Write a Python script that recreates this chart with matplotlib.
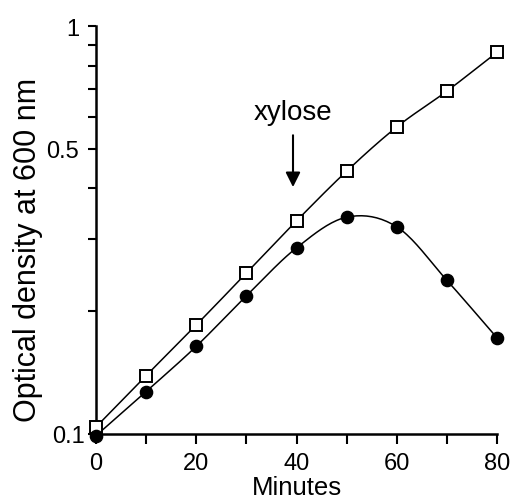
import numpy as np
import matplotlib
matplotlib.use("Agg")
import matplotlib.pyplot as plt
import matplotlib.transforms as mtransforms
from matplotlib.ticker import FixedLocator, NullFormatter

minutes = [0, 10, 20, 30, 40, 50, 60, 70, 80]
od_control = [0.104, 0.139, 0.185, 0.248, 0.333, 0.441, 0.566, 0.693, 0.863]
od_xylose = [0.099, 0.127, 0.164, 0.218, 0.286, 0.340, 0.322, 0.238, 0.172]
xticks = [0, 20, 40, 60, 80]
yticks = [0.1, 0.5, 1]
ytick_labels = ["0.1", "0.5", "1"]

plt.rcParams['font.family'] = ['Liberation Sans', 'DejaVu Sans']


def smooth(x, y, n=20):
    # Catmull-Rom spline in log space through the data points (for drawing only)
    x = np.asarray(x, float)
    ly = np.log10(np.asarray(y, float))
    px = np.concatenate([[2 * x[0] - x[1]], x, [2 * x[-1] - x[-2]]])
    py = np.concatenate([[2 * ly[0] - ly[1]], ly, [2 * ly[-1] - ly[-2]]])
    xs, ys = [], []
    for i in range(1, len(px) - 2):
        t = np.linspace(0, 1, n, endpoint=False)
        for arr, out in ((px, xs), (py, ys)):
            p0, p1, p2, p3 = arr[i - 1], arr[i], arr[i + 1], arr[i + 2]
            out.extend(0.5 * ((2 * p1) + (-p0 + p2) * t
                              + (2 * p0 - 5 * p1 + 4 * p2 - p3) * t ** 2
                              + (-p0 + 3 * p1 - 3 * p2 + p3) * t ** 3))
    xs.append(x[-1]); ys.append(ly[-1])
    return np.array(xs), 10 ** np.array(ys)


fig = plt.figure(figsize=(5.13, 5.02), dpi=100)
ax = fig.add_axes([0.187, 0.1335, 0.782, 0.8125])
ax.set_yscale('log')
ax.set_xlim(0, 80)
ax.set_ylim(0.1, 1)

sx, sy = smooth(minutes, od_control)
ax.plot(sx, sy, color='black', lw=1.1, clip_on=False, zorder=2)
sx, sy = smooth(minutes, od_xylose)
ax.plot(sx, sy, color='black', lw=1.1, clip_on=False, zorder=2)

ax.plot(minutes, od_control, ls='none', marker='s', ms=9.2, mfc='white',
        mec='black', mew=1.4, clip_on=False, zorder=3)
ax.plot(minutes, od_xylose, ls='none', marker='o', ms=8.8, mfc='black',
        mec='black', mew=1, clip_on=False, zorder=3)

for s in ['top', 'right']:
    ax.spines[s].set_visible(False)
for s in ['left', 'bottom']:
    ax.spines[s].set_linewidth(1.8)

ax.set_xticks(xticks)
ax.xaxis.set_minor_locator(FixedLocator([10, 30, 50, 70]))
ax.yaxis.set_major_locator(FixedLocator(yticks))
ax.set_yticklabels(ytick_labels)
ax.yaxis.set_minor_locator(FixedLocator([0.2, 0.3, 0.4, 0.6, 0.7, 0.8, 0.9]))
ax.yaxis.set_minor_formatter(NullFormatter())
ax.tick_params(axis='x', which='both', direction='out', length=7, width=1.5,
               labelsize=17, pad=6)
ax.tick_params(axis='y', which='both', direction='out', length=6, width=1.5,
               labelsize=17, pad=6)

ax.set_xlabel('Minutes', fontsize=18.5, labelpad=0.5)
ax.set_ylabel('Optical density at 600 nm', fontsize=22)
ax.yaxis.set_label_coords(-0.133, 0.453)

# the 0.1 label sits closer to the axis in the reference
lab01 = ax.get_yticklabels()[0]
lab01.set_transform(lab01.get_transform()
                    + mtransforms.ScaledTranslation(6 / 100, 0, fig.dpi_scale_trans))

ax.annotate('', xy=(39.3, 0.403), xytext=(39.3, 0.54),
            arrowprops=dict(arrowstyle='-|>', color='black', lw=1.5,
                            mutation_scale=22, shrinkA=0, shrinkB=0))
ax.text(39.3, 0.615, 'xylose', ha='center', va='center', fontsize=20)

fig.savefig('out.png', dpi=100)
